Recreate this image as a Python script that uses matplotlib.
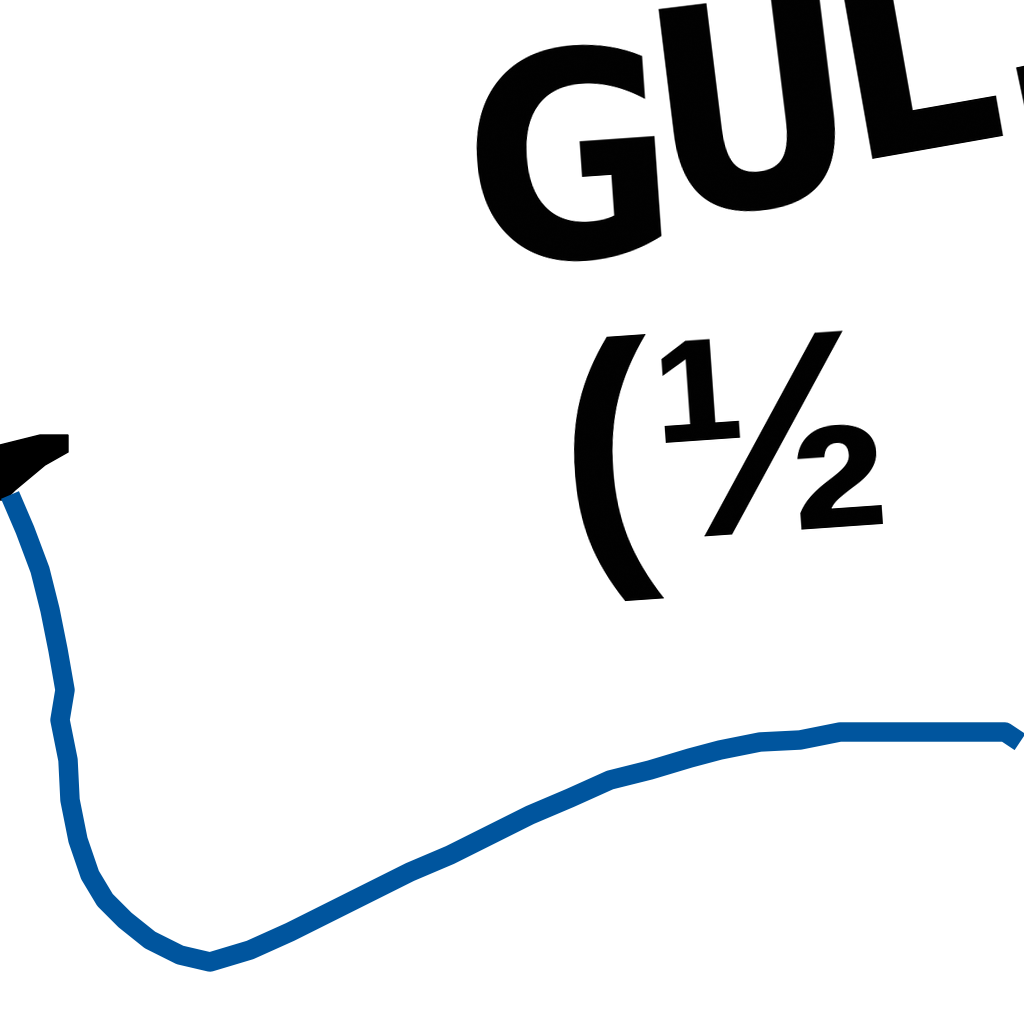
import matplotlib
matplotlib.use("Agg")
import matplotlib.pyplot as plt
from matplotlib.patches import Polygon

# Data (pixel-space coordinates of the cropped view, y downward)
curve_x = [10, 25, 40, 50, 58, 65, 60, 68, 70, 78, 90, 105, 125, 150, 180, 210, 250, 290, 330,
           370, 410, 450, 490, 530, 570, 610, 650, 690, 720, 760, 800, 840, 900, 960, 1005, 1020]
curve_y = [495, 530, 570, 610, 650, 690, 720, 760, 800, 840, 875, 900, 920, 940, 955, 962, 950,
           932, 912, 892, 872, 855, 835, 815, 798, 780, 770, 758, 750, 742, 740, 732, 732, 732,
           732, 742]
arrow_x = [0, 40, 68, 68, 45, 15, 5, 0]
arrow_y = [445, 435, 435, 452, 465, 490, 500, 500]
letters = ["G", "U", "L", "F"]
letter_x = [570, 754, 915, 1105]
letter_y = [178, 125, 67, 175]
letter_rot = [4, 7, 10, 12]
sub_text = "(½"
sub_x = 726
sub_y = 460

fig = plt.figure(figsize=(10.24, 10.24), dpi=100)
ax = fig.add_axes([0, 0, 1, 1])
ax.set_xlim(0, 1024)
ax.set_ylim(1024, 0)
ax.axis("off")

ax.plot(curve_x, curve_y, color="#00559E", lw=14, solid_capstyle="butt", solid_joinstyle="round")
ax.add_patch(Polygon(list(zip(arrow_x, arrow_y)), closed=True, color="black"))

for t, x, y, r in zip(letters, letter_x, letter_y, letter_rot):
    ax.text(x, y, t, fontsize=205, fontweight="bold", family="DejaVu Sans",
            fontstretch="condensed", ha="center", va="center", rotation=r, color="black")

ax.text(sub_x, sub_y, sub_text, fontsize=205, fontweight="bold", family="Liberation Sans",
        ha="center", va="center", rotation=4, color="black")

fig.savefig("out.png", dpi=100)
